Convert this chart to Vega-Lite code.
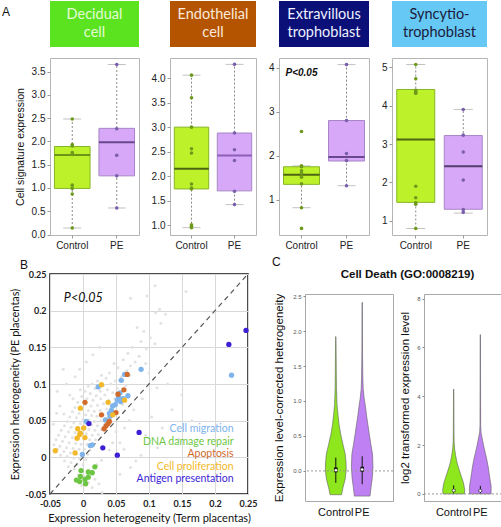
{
"$schema":"https://vega.github.io/schema/vega-lite/v6.json",
"padding":{"left":1,"top":1,"right":0,"bottom":0},
"background":"white",
"config":{"font":"Liberation Sans","view":{"stroke":null},"axis":{"grid":false,"labelOverlap":false,"labelFlush":false,"labelFont":"Liberation Sans","titleFont":"Liberation Sans"},"title":{"font":"Liberation Sans","fontWeight":"normal","fontSize":12,"color":"#111"}},
"datasets":{
"boxes":[
{"panel":"Decidual","group":"Control","lo":0.14,"q1":0.99,"med":1.71,"q3":1.89,"hi":2.48},
{"panel":"Decidual","group":"PE","lo":0.57,"q1":1.26,"med":1.98,"q3":2.28,"hi":3.65},
{"panel":"Endothelial","group":"Control","lo":0.95,"q1":1.74,"med":2.15,"q3":3.0,"hi":4.06},
{"panel":"Endothelial","group":"PE","lo":1.42,"q1":1.70,"med":2.42,"q3":2.88,"hi":4.28},
{"panel":"Extravillous","group":"Control","lo":0.82,"q1":1.35,"med":1.57,"q3":1.75,"hi":1.77},
{"panel":"Extravillous","group":"PE","lo":1.32,"q1":1.88,"med":1.97,"q3":2.80,"hi":4.07},
{"panel":"Syncytio","group":"Control","lo":0.80,"q1":1.48,"med":3.12,"q3":4.42,"hi":5.07},
{"panel":"Syncytio","group":"PE","lo":1.20,"q1":1.30,"med":2.42,"q3":3.22,"hi":3.90}],
"pts":[
{"panel":"Decidual","group":"Control","value":2.48},{"panel":"Decidual","group":"Control","value":1.93},{"panel":"Decidual","group":"Control","value":1.90},{"panel":"Decidual","group":"Control","value":1.76},{"panel":"Decidual","group":"Control","value":1.72},{"panel":"Decidual","group":"Control","value":1.06},{"panel":"Decidual","group":"Control","value":0.99},{"panel":"Decidual","group":"Control","value":0.87},{"panel":"Decidual","group":"Control","value":0.14},
{"panel":"Decidual","group":"PE","value":3.65},{"panel":"Decidual","group":"PE","value":2.27},{"panel":"Decidual","group":"PE","value":1.70},{"panel":"Decidual","group":"PE","value":1.26},{"panel":"Decidual","group":"PE","value":0.57},
{"panel":"Endothelial","group":"Control","value":4.06},{"panel":"Endothelial","group":"Control","value":3.60},{"panel":"Endothelial","group":"Control","value":3.00},{"panel":"Endothelial","group":"Control","value":2.56},{"panel":"Endothelial","group":"Control","value":2.47},{"panel":"Endothelial","group":"Control","value":1.84},{"panel":"Endothelial","group":"Control","value":1.76},{"panel":"Endothelial","group":"Control","value":1.74},{"panel":"Endothelial","group":"Control","value":1.01},{"panel":"Endothelial","group":"Control","value":0.98},{"panel":"Endothelial","group":"Control","value":0.95},
{"panel":"Endothelial","group":"PE","value":4.28},{"panel":"Endothelial","group":"PE","value":2.88},{"panel":"Endothelial","group":"PE","value":2.54},{"panel":"Endothelial","group":"PE","value":2.32},{"panel":"Endothelial","group":"PE","value":1.69},{"panel":"Endothelial","group":"PE","value":1.42},
{"panel":"Extravillous","group":"Control","value":2.55},{"panel":"Extravillous","group":"Control","value":1.77},{"panel":"Extravillous","group":"Control","value":1.75},{"panel":"Extravillous","group":"Control","value":1.66},{"panel":"Extravillous","group":"Control","value":1.60},{"panel":"Extravillous","group":"Control","value":1.51},{"panel":"Extravillous","group":"Control","value":1.36},{"panel":"Extravillous","group":"Control","value":0.82},{"panel":"Extravillous","group":"Control","value":0.35},
{"panel":"Extravillous","group":"PE","value":4.07},{"panel":"Extravillous","group":"PE","value":2.80},{"panel":"Extravillous","group":"PE","value":2.05},{"panel":"Extravillous","group":"PE","value":1.89},{"panel":"Extravillous","group":"PE","value":1.32},
{"panel":"Syncytio","group":"Control","value":5.07},{"panel":"Syncytio","group":"Control","value":4.70},{"panel":"Syncytio","group":"Control","value":4.40},{"panel":"Syncytio","group":"Control","value":4.35},{"panel":"Syncytio","group":"Control","value":4.32},{"panel":"Syncytio","group":"Control","value":1.90},{"panel":"Syncytio","group":"Control","value":1.60},{"panel":"Syncytio","group":"Control","value":1.47},{"panel":"Syncytio","group":"Control","value":1.43},{"panel":"Syncytio","group":"Control","value":0.80},
{"panel":"Syncytio","group":"PE","value":3.90},{"panel":"Syncytio","group":"PE","value":3.23},{"panel":"Syncytio","group":"PE","value":2.79},{"panel":"Syncytio","group":"PE","value":2.06},{"panel":"Syncytio","group":"PE","value":1.29},{"panel":"Syncytio","group":"PE","value":1.22}],
"genes":[
{"x":0.109,"y":0.234},{"x":0.097,"y":0.220},{"x":0.156,"y":0.226},{"x":0.072,"y":0.217},{"x":0.116,"y":0.202},{"x":0.110,"y":0.197},{"x":0.125,"y":0.195},{"x":0.092,"y":0.172},{"x":0.082,"y":0.177},{"x":0.102,"y":0.163},{"x":0.118,"y":0.183},{"x":0.088,"y":0.158},{"x":0.075,"y":0.150},{"x":0.096,"y":0.148},{"x":0.109,"y":0.155},{"x":0.068,"y":0.142},{"x":0.085,"y":0.138},{"x":0.079,"y":0.130},{"x":0.095,"y":0.128},{"x":0.061,"y":0.133},{"x":0.072,"y":0.125},{"x":0.053,"y":0.122},{"x":0.066,"y":0.118},{"x":0.047,"y":0.128},{"x":0.040,"y":0.115},{"x":0.058,"y":0.110},{"x":0.035,"y":0.108},{"x":0.049,"y":0.104},{"x":0.028,"y":0.112},{"x":0.042,"y":0.100},{"x":0.031,"y":0.098},{"x":0.022,"y":0.104},{"x":0.014,"y":0.100},{"x":0.037,"y":0.092},{"x":0.026,"y":0.090},{"x":0.018,"y":0.094},{"x":0.008,"y":0.097},{"x":0.045,"y":0.088},{"x":0.052,"y":0.094},{"x":0.033,"y":0.085},{"x":0.020,"y":0.084},{"x":0.011,"y":0.087},{"x":0.003,"y":0.090},{"x":-0.004,"y":0.092},{"x":0.027,"y":0.080},{"x":0.039,"y":0.078},{"x":0.015,"y":0.078},{"x":0.006,"y":0.080},{"x":-0.002,"y":0.083},{"x":0.048,"y":0.080},{"x":0.031,"y":0.073},{"x":0.022,"y":0.071},{"x":0.012,"y":0.070},{"x":0.003,"y":0.072},{"x":-0.008,"y":0.075},{"x":0.042,"y":0.070},{"x":0.036,"y":0.066},{"x":0.026,"y":0.064},{"x":0.017,"y":0.063},{"x":0.008,"y":0.064},{"x":-0.001,"y":0.066},{"x":-0.012,"y":0.068},{"x":0.046,"y":0.062},{"x":0.031,"y":0.058},{"x":0.021,"y":0.056},{"x":0.013,"y":0.057},{"x":0.004,"y":0.058},{"x":-0.006,"y":0.060},{"x":-0.016,"y":0.062},{"x":0.038,"y":0.054},{"x":0.027,"y":0.050},{"x":0.017,"y":0.049},{"x":0.009,"y":0.051},{"x":0.000,"y":0.052},{"x":-0.010,"y":0.054},{"x":-0.020,"y":0.055},{"x":0.033,"y":0.045},{"x":0.022,"y":0.043},{"x":0.013,"y":0.044},{"x":0.005,"y":0.045},{"x":-0.004,"y":0.046},{"x":-0.014,"y":0.047},{"x":-0.024,"y":0.049},{"x":0.028,"y":0.038},{"x":0.018,"y":0.037},{"x":0.009,"y":0.038},{"x":0.001,"y":0.039},{"x":-0.008,"y":0.040},{"x":-0.018,"y":0.041},{"x":-0.028,"y":0.043},{"x":0.023,"y":0.031},{"x":0.014,"y":0.030},{"x":0.005,"y":0.032},{"x":-0.003,"y":0.033},{"x":-0.012,"y":0.034},{"x":-0.022,"y":0.035},{"x":-0.033,"y":0.037},{"x":0.019,"y":0.024},{"x":0.010,"y":0.024},{"x":0.001,"y":0.025},{"x":-0.007,"y":0.026},{"x":-0.016,"y":0.027},{"x":-0.027,"y":0.028},{"x":-0.037,"y":0.030},{"x":0.015,"y":0.017},{"x":0.006,"y":0.018},{"x":-0.003,"y":0.018},{"x":-0.011,"y":0.019},{"x":-0.021,"y":0.020},{"x":-0.031,"y":0.022},{"x":-0.041,"y":0.024},{"x":0.011,"y":0.010},{"x":0.002,"y":0.011},{"x":-0.006,"y":0.011},{"x":-0.015,"y":0.012},{"x":-0.025,"y":0.013},{"x":-0.035,"y":0.015},{"x":-0.044,"y":0.017},{"x":0.007,"y":0.004},{"x":-0.002,"y":0.004},{"x":-0.010,"y":0.005},{"x":-0.019,"y":0.006},{"x":-0.029,"y":0.008},{"x":-0.039,"y":0.011},{"x":0.004,"y":-0.003},{"x":-0.005,"y":-0.002},{"x":-0.014,"y":-0.001},{"x":-0.024,"y":0.001},{"x":-0.034,"y":0.003},{"x":0.000,"y":-0.010},{"x":-0.009,"y":-0.009},{"x":-0.018,"y":-0.007},{"x":-0.028,"y":-0.005},{"x":-0.004,"y":-0.018},{"x":-0.013,"y":-0.016},{"x":-0.022,"y":-0.013},{"x":0.012,"y":-0.022},{"x":0.002,"y":-0.026},{"x":-0.007,"y":-0.024},{"x":0.018,"y":-0.030},{"x":0.008,"y":-0.034},{"x":-0.002,"y":-0.038},{"x":0.014,"y":-0.041},{"x":0.024,"y":-0.036},{"x":0.029,"y":-0.048},{"x":0.021,"y":-0.010},{"x":0.028,"y":-0.004},{"x":0.056,"y":0.020},{"x":0.062,"y":0.011},{"x":0.072,"y":-0.014},{"x":0.056,"y":-0.023},{"x":0.080,"y":-0.005},{"x":0.113,"y":0.013},{"x":0.095,"y":0.030},{"x":0.104,"y":0.055},{"x":0.120,"y":0.040},{"x":0.135,"y":0.065},{"x":0.150,"y":0.085},{"x":0.128,"y":0.100},{"x":0.090,"y":0.080},{"x":0.070,"y":0.050},{"x":0.077,"y":0.065},{"x":0.063,"y":0.040},{"x":0.050,"y":0.035},{"x":0.045,"y":0.020},{"x":0.040,"y":0.010},{"x":0.088,"y":0.003},{"x":0.145,"y":0.025},{"x":0.165,"y":0.050},{"x":0.100,"y":0.115},{"x":0.112,"y":0.095},{"x":0.060,"y":0.072},{"x":0.065,"y":0.098},{"x":0.055,"y":0.105},{"x":0.071,"y":0.112},{"x":-0.039,"y":0.090},{"x":-0.029,"y":0.059},{"x":-0.041,"y":0.011},{"x":-0.045,"y":0.045},{"x":-0.035,"y":0.070},{"x":-0.020,"y":0.085},{"x":-0.025,"y":0.100},{"x":-0.012,"y":0.110},{"x":-0.005,"y":0.120},{"x":0.005,"y":0.130},{"x":0.015,"y":0.140},{"x":0.025,"y":0.150},{"x":-0.030,"y":0.120},{"x":-0.015,"y":0.080},{"x":-0.040,"y":0.060}],
"terms":[
{"term":"Cell migration","x":0.225,"y":0.112},{"term":"Cell migration","x":0.088,"y":0.120},{"term":"Cell migration","x":0.063,"y":0.113},{"term":"Cell migration","x":0.058,"y":0.105},{"term":"Cell migration","x":0.023,"y":0.096},{"term":"Cell migration","x":0.068,"y":0.084},{"term":"Cell migration","x":0.056,"y":0.088},{"term":"Cell migration","x":0.054,"y":0.082},{"term":"Cell migration","x":0.052,"y":0.078},{"term":"Cell migration","x":0.049,"y":0.072},{"term":"Cell migration","x":0.057,"y":0.076},{"term":"Cell migration","x":0.045,"y":0.070},{"term":"Cell migration","x":0.043,"y":0.064},{"term":"Cell migration","x":0.040,"y":0.060},{"term":"Cell migration","x":0.041,"y":0.056},{"term":"Cell migration","x":0.034,"y":0.051},{"term":"Cell migration","x":0.005,"y":0.049},{"term":"Cell migration","x":0.014,"y":0.017},{"term":"Cell migration","x":0.011,"y":0.016},{"term":"Cell migration","x":-0.001,"y":0.004},{"term":"Cell migration","x":0.061,"y":0.080},
{"term":"DNA damage repair","x":-0.003,"y":-0.018},{"term":"DNA damage repair","x":0.018,"y":-0.013},{"term":"DNA damage repair","x":0.008,"y":-0.020},{"term":"DNA damage repair","x":-0.004,"y":-0.026},{"term":"DNA damage repair","x":-0.010,"y":-0.031},{"term":"DNA damage repair","x":-0.005,"y":-0.033},{"term":"DNA damage repair","x":0.003,"y":-0.030},{"term":"DNA damage repair","x":0.008,"y":-0.027},{"term":"DNA damage repair","x":0.004,"y":-0.036},{"term":"DNA damage repair","x":0.014,"y":-0.021},
{"term":"Apoptosis","x":0.067,"y":0.113},{"term":"Apoptosis","x":0.062,"y":0.092},{"term":"Apoptosis","x":0.053,"y":0.086},{"term":"Apoptosis","x":0.003,"y":0.075},{"term":"Apoptosis","x":0.028,"y":0.058},{"term":"Apoptosis","x":0.050,"y":0.061},{"term":"Apoptosis","x":0.035,"y":0.043},{"term":"Apoptosis","x":0.038,"y":0.046},{"term":"Apoptosis","x":0.032,"y":0.039},{"term":"Apoptosis","x":0.040,"y":0.049},
{"term":"Cell proliferation","x":0.028,"y":0.099},{"term":"Cell proliferation","x":-0.004,"y":0.067},{"term":"Cell proliferation","x":0.038,"y":0.075},{"term":"Cell proliferation","x":0.063,"y":0.078},{"term":"Cell proliferation","x":0.045,"y":0.058},{"term":"Cell proliferation","x":-0.008,"y":0.039},{"term":"Cell proliferation","x":-0.005,"y":0.031},{"term":"Cell proliferation","x":0.001,"y":0.040},{"term":"Cell proliferation","x":0.003,"y":0.027},{"term":"Cell proliferation","x":-0.009,"y":0.026},{"term":"Cell proliferation","x":-0.012,"y":0.006},{"term":"Cell proliferation","x":-0.042,"y":0.009},{"term":"Cell proliferation","x":-0.004,"y":0.033},
{"term":"Antigen presentation","x":0.247,"y":0.173},{"term":"Antigen presentation","x":0.221,"y":0.154},{"term":"Antigen presentation","x":0.085,"y":0.034},{"term":"Antigen presentation","x":0.052,"y":0.003},{"term":"Antigen presentation","x":0.030,"y":0.013},{"term":"Antigen presentation","x":0.009,"y":0.046}],
"violin":[
{"panel":"het","group":"Control","y":-0.34,"w":0.52},{"panel":"het","group":"Control","y":-0.24,"w":0.65},{"panel":"het","group":"Control","y":-0.12,"w":0.85},{"panel":"het","group":"Control","y":0.02,"w":0.95},{"panel":"het","group":"Control","y":0.12,"w":0.93},{"panel":"het","group":"Control","y":0.24,"w":0.86},{"panel":"het","group":"Control","y":0.38,"w":0.65},{"panel":"het","group":"Control","y":0.52,"w":0.45},{"panel":"het","group":"Control","y":0.66,"w":0.30},{"panel":"het","group":"Control","y":0.80,"w":0.20},{"panel":"het","group":"Control","y":0.95,"w":0.11},{"panel":"het","group":"Control","y":1.18,"w":0.06},{"panel":"het","group":"Control","y":1.42,"w":0.045},{"panel":"het","group":"Control","y":1.70,"w":0.03},{"panel":"het","group":"Control","y":1.92,"w":0.015},
{"panel":"het","group":"PE","y":-0.36,"w":0.71},{"panel":"het","group":"PE","y":-0.24,"w":0.80},{"panel":"het","group":"PE","y":-0.10,"w":0.92},{"panel":"het","group":"PE","y":0.05,"w":0.98},{"panel":"het","group":"PE","y":0.24,"w":0.94},{"panel":"het","group":"PE","y":0.38,"w":0.79},{"panel":"het","group":"PE","y":0.52,"w":0.65},{"panel":"het","group":"PE","y":0.66,"w":0.52},{"panel":"het","group":"PE","y":0.80,"w":0.39},{"panel":"het","group":"PE","y":0.95,"w":0.27},{"panel":"het","group":"PE","y":1.04,"w":0.18},{"panel":"het","group":"PE","y":1.18,"w":0.09},{"panel":"het","group":"PE","y":1.33,"w":0.06},{"panel":"het","group":"PE","y":1.66,"w":0.03},{"panel":"het","group":"PE","y":2.00,"w":0.02},{"panel":"het","group":"PE","y":2.41,"w":0.015},
{"panel":"expr","group":"Control","y":0.0,"w":0.97},{"panel":"expr","group":"Control","y":0.19,"w":1.0},{"panel":"expr","group":"Control","y":0.47,"w":0.88},{"panel":"expr","group":"Control","y":0.74,"w":0.68},{"panel":"expr","group":"Control","y":1.02,"w":0.48},{"panel":"expr","group":"Control","y":1.29,"w":0.30},{"panel":"expr","group":"Control","y":1.57,"w":0.18},{"panel":"expr","group":"Control","y":1.84,"w":0.09},{"panel":"expr","group":"Control","y":2.12,"w":0.045},{"panel":"expr","group":"Control","y":2.50,"w":0.03},{"panel":"expr","group":"Control","y":3.40,"w":0.02},{"panel":"expr","group":"Control","y":4.29,"w":0.015},
{"panel":"expr","group":"PE","y":0.0,"w":0.98},{"panel":"expr","group":"PE","y":0.33,"w":0.98},{"panel":"expr","group":"PE","y":0.60,"w":0.88},{"panel":"expr","group":"PE","y":0.88,"w":0.79},{"panel":"expr","group":"PE","y":1.15,"w":0.70},{"panel":"expr","group":"PE","y":1.43,"w":0.58},{"panel":"expr","group":"PE","y":1.70,"w":0.44},{"panel":"expr","group":"PE","y":1.98,"w":0.30},{"panel":"expr","group":"PE","y":2.25,"w":0.18},{"panel":"expr","group":"PE","y":2.53,"w":0.06},{"panel":"expr","group":"PE","y":2.80,"w":0.03},{"panel":"expr","group":"PE","y":4.50,"w":0.02},{"panel":"expr","group":"PE","y":6.52,"w":0.015}],
"vstats":[
{"panel":"het","group":"Control","lo":-0.17,"q1":-0.02,"med":0.01,"q3":0.05,"hi":0.19},
{"panel":"het","group":"PE","lo":-0.19,"q1":-0.01,"med":0.02,"q3":0.06,"hi":0.21},
{"panel":"expr","group":"Control","lo":0.03,"q1":0.09,"med":0.14,"q3":0.19,"hi":0.35},
{"panel":"expr","group":"PE","lo":0.03,"q1":0.08,"med":0.13,"q3":0.18,"hi":0.33}]
},
"resolve":{"scale":{"color":"independent"},"legend":{"color":"independent"}},
"vconcat":[
{"hconcat":[
 {"vconcat":[
  {"width":89,"height":46,"view":{"fill":"#5be31f","stroke":null},
   "title":{"text":"A","orient":"left","anchor":"end","angle":0,"align":"left","baseline":"top","offset":40,"frame":"group","fontSize":12,"dy":6},
   "data":{"values":[{"label":"Decidual\ncell"}]},
   "mark":{"type":"text","lineBreak":"\n","font":"Lato","fontSize":14.5,"lineHeight":18,"color":"#e4fbd4","baseline":"middle","align":"center","dy":-9},
   "encoding":{"text":{"field":"label"}}},
  {"width":89,"height":177,"view":{"stroke":"#b5b5b5"},
   "encoding":{"x":{"field":"group","type":"nominal","scale":{"domain":["Control","PE"],"paddingInner":0,"paddingOuter":0},"axis":{"title":null,"labelAngle":0,"labelFontSize":10,"labelColor":"#222","tickColor":"#999","tickSize":3,"domain":false,"labelPadding":2}}},
   "layer":[
    {"data":{"name":"boxes"},"transform":[{"filter":"datum.panel === 'Decidual'"}],"mark":{"type":"rule","strokeDash":[2,2],"color":"#8a8a8a"},
     "encoding":{"y":{"field":"lo","type":"quantitative","scale":{"domain":[-0.01,3.79],"nice":false,"zero":false},"axis":{"title":"Cell signature expression","values":[0,0.5,1,1.5,2,2.5,3,3.5],"tickCount":20,"format":".1f","domain":false,"tickColor":"#999","tickSize":3,"labelFontSize":10,"labelColor":"#222","titleFontSize":10.5,"titleFontWeight":"normal","titleColor":"#111","titlePadding":6}},"y2":{"field":"hi"}}},
    {"data":{"name":"boxes"},"transform":[{"filter":"datum.panel === 'Decidual'"}],"mark":{"type":"tick","size":18,"thickness":1,"color":"#a8a8a8"},"encoding":{"y":{"field":"lo","type":"quantitative"}}},
    {"data":{"name":"boxes"},"transform":[{"filter":"datum.panel === 'Decidual'"}],"mark":{"type":"tick","size":18,"thickness":1,"color":"#a8a8a8"},"encoding":{"y":{"field":"hi","type":"quantitative"}}},
    {"data":{"name":"boxes"},"transform":[{"filter":"datum.panel === 'Decidual'"}],"mark":{"type":"bar","width":{"band":0.8},"strokeWidth":1},
     "encoding":{"y":{"field":"q1","type":"quantitative"},"y2":{"field":"q3"},"color":{"condition":{"test":"datum.group === 'Control'","value":"#bdf22a"},"value":"#d7a8f7"},"stroke":{"condition":{"test":"datum.group === 'Control'","value":"#86b526"},"value":"#a786c6"}}},
    {"data":{"name":"boxes"},"transform":[{"filter":"datum.panel === 'Decidual'"}],"mark":{"type":"tick","size":35.6,"thickness":2},
     "encoding":{"y":{"field":"med","type":"quantitative"},"color":{"condition":{"test":"datum.group === 'Control'","value":"#4d6e10"},"value":"#3a2060"}}},
    {"data":{"name":"pts"},"transform":[{"filter":"datum.panel === 'Decidual'"}],"mark":{"type":"circle","size":13,"opacity":1},
     "encoding":{"y":{"field":"value","type":"quantitative"},"color":{"condition":{"test":"datum.group === 'Control'","value":"#6e9a1c"},"value":"#7b5fae"}}}
   ]}
 ],"spacing":11,"bounds":"flush"},
 {"vconcat":[
  {"width":86,"height":46,"view":{"fill":"#b55400","stroke":null},
   "data":{"values":[{"label":"Endothelial\ncell"}]},
   "mark":{"type":"text","lineBreak":"\n","font":"Lato","fontSize":14.5,"lineHeight":18,"color":"#fbe9dc","baseline":"middle","align":"center","dy":-9},
   "encoding":{"text":{"field":"label"}}},
  {"width":86,"height":177,"view":{"stroke":"#b5b5b5"},
   "encoding":{"x":{"field":"group","type":"nominal","scale":{"domain":["Control","PE"],"paddingInner":0,"paddingOuter":0},"axis":{"title":null,"labelAngle":0,"labelFontSize":10,"labelColor":"#222","tickColor":"#999","tickSize":3,"domain":false,"labelPadding":2}}},
   "layer":[
    {"data":{"name":"boxes"},"transform":[{"filter":"datum.panel === 'Endothelial'"}],"mark":{"type":"rule","strokeDash":[2,2],"color":"#8a8a8a"},
     "encoding":{"y":{"field":"lo","type":"quantitative","scale":{"domain":[0.80,4.41],"nice":false,"zero":false},"axis":{"title":null,"values":[1,1.5,2,2.5,3,3.5,4],"tickCount":20,"format":".1f","domain":false,"tickColor":"#999","tickSize":3,"labelFontSize":10,"labelColor":"#222"}},"y2":{"field":"hi"}}},
    {"data":{"name":"boxes"},"transform":[{"filter":"datum.panel === 'Endothelial'"}],"mark":{"type":"tick","size":18,"thickness":1,"color":"#a8a8a8"},"encoding":{"y":{"field":"lo","type":"quantitative"}}},
    {"data":{"name":"boxes"},"transform":[{"filter":"datum.panel === 'Endothelial'"}],"mark":{"type":"tick","size":18,"thickness":1,"color":"#a8a8a8"},"encoding":{"y":{"field":"hi","type":"quantitative"}}},
    {"data":{"name":"boxes"},"transform":[{"filter":"datum.panel === 'Endothelial'"}],"mark":{"type":"bar","width":{"band":0.8},"strokeWidth":1},
     "encoding":{"y":{"field":"q1","type":"quantitative"},"y2":{"field":"q3"},"color":{"condition":{"test":"datum.group === 'Control'","value":"#bdf22a"},"value":"#d7a8f7"},"stroke":{"condition":{"test":"datum.group === 'Control'","value":"#86b526"},"value":"#a786c6"}}},
    {"data":{"name":"boxes"},"transform":[{"filter":"datum.panel === 'Endothelial'"}],"mark":{"type":"tick","size":34.4,"thickness":2},
     "encoding":{"y":{"field":"med","type":"quantitative"},"color":{"condition":{"test":"datum.group === 'Control'","value":"#1f2a08"},"value":"#6a3fa0"}}},
    {"data":{"name":"pts"},"transform":[{"filter":"datum.panel === 'Endothelial'"}],"mark":{"type":"circle","size":13,"opacity":1},
     "encoding":{"y":{"field":"value","type":"quantitative"},"color":{"condition":{"test":"datum.group === 'Control'","value":"#6e9a1c"},"value":"#7b5fae"}}}
   ]}
 ],"spacing":11,"bounds":"flush"},
 {"vconcat":[
  {"width":90,"height":46,"view":{"fill":"#0b1078","stroke":null},
   "data":{"values":[{"label":"Extravillous\ntrophoblast"}]},
   "mark":{"type":"text","lineBreak":"\n","font":"Lato","fontSize":14.5,"lineHeight":18,"color":"#eef0ff","baseline":"middle","align":"center","dy":-9},
   "encoding":{"text":{"field":"label"}}},
  {"width":90,"height":177,"view":{"stroke":"#b5b5b5"},
   "encoding":{"x":{"field":"group","type":"nominal","scale":{"domain":["Control","PE"],"paddingInner":0,"paddingOuter":0},"axis":{"title":null,"labelAngle":0,"labelFontSize":10,"labelColor":"#222","tickColor":"#999","tickSize":3,"domain":false,"labelPadding":2}}},
   "layer":[
    {"data":{"name":"boxes"},"transform":[{"filter":"datum.panel === 'Extravillous'"}],"mark":{"type":"rule","strokeDash":[2,2],"color":"#8a8a8a"},
     "encoding":{"y":{"field":"lo","type":"quantitative","scale":{"domain":[0.2,4.22],"nice":false,"zero":false},"axis":{"title":null,"values":[1,2,3,4],"tickCount":20,"format":"d","domain":false,"tickColor":"#999","tickSize":3,"labelFontSize":10,"labelColor":"#222"}},"y2":{"field":"hi"}}},
    {"data":{"name":"boxes"},"transform":[{"filter":"datum.panel === 'Extravillous'"}],"mark":{"type":"tick","size":18,"thickness":1,"color":"#a8a8a8"},"encoding":{"y":{"field":"lo","type":"quantitative"}}},
    {"data":{"name":"boxes"},"transform":[{"filter":"datum.panel === 'Extravillous'"}],"mark":{"type":"tick","size":18,"thickness":1,"color":"#a8a8a8"},"encoding":{"y":{"field":"hi","type":"quantitative"}}},
    {"data":{"name":"boxes"},"transform":[{"filter":"datum.panel === 'Extravillous'"}],"mark":{"type":"bar","width":{"band":0.8},"strokeWidth":1},
     "encoding":{"y":{"field":"q1","type":"quantitative"},"y2":{"field":"q3"},"color":{"condition":{"test":"datum.group === 'Control'","value":"#bdf22a"},"value":"#d7a8f7"},"stroke":{"condition":{"test":"datum.group === 'Control'","value":"#86b526"},"value":"#a786c6"}}},
    {"data":{"name":"boxes"},"transform":[{"filter":"datum.panel === 'Extravillous'"}],"mark":{"type":"tick","size":36,"thickness":2},
     "encoding":{"y":{"field":"med","type":"quantitative"},"color":{"condition":{"test":"datum.group === 'Control'","value":"#1f2a08"},"value":"#3a2060"}}},
    {"data":{"name":"pts"},"transform":[{"filter":"datum.panel === 'Extravillous'"}],"mark":{"type":"circle","size":13,"opacity":1},
     "encoding":{"y":{"field":"value","type":"quantitative"},"color":{"condition":{"test":"datum.group === 'Control'","value":"#6e9a1c"},"value":"#7b5fae"}}},
    {"data":{"values":[{"group":"Control","y":3.87,"t":"P<0.05"}]},"mark":{"type":"text","fontWeight":"bold","fontStyle":"italic","fontSize":10,"color":"#111","baseline":"middle"},
     "encoding":{"y":{"field":"y","type":"quantitative"},"text":{"field":"t"}}}
   ]}
 ],"spacing":11,"bounds":"flush"},
 {"vconcat":[
  {"width":95,"height":46,"view":{"fill":"#66c9f5","stroke":null},
   "data":{"values":[{"label":"Syncytio-\ntrophoblast"}]},
   "mark":{"type":"text","lineBreak":"\n","font":"Lato","fontSize":14.5,"lineHeight":18,"color":"#1b1b3c","baseline":"middle","align":"center","dy":-9},
   "encoding":{"text":{"field":"label"}}},
  {"width":95,"height":177,"view":{"stroke":"#b5b5b5"},
   "encoding":{"x":{"field":"group","type":"nominal","scale":{"domain":["Control","PE"],"paddingInner":0,"paddingOuter":0},"axis":{"title":null,"labelAngle":0,"labelFontSize":10,"labelColor":"#222","tickColor":"#999","tickSize":3,"domain":false,"labelPadding":2}}},
   "layer":[
    {"data":{"name":"boxes"},"transform":[{"filter":"datum.panel === 'Syncytio'"}],"mark":{"type":"rule","strokeDash":[2,2],"color":"#8a8a8a"},
     "encoding":{"y":{"field":"lo","type":"quantitative","scale":{"domain":[0.63,5.24],"nice":false,"zero":false},"axis":{"title":null,"values":[1,2,3,4,5],"tickCount":20,"format":"d","domain":false,"tickColor":"#999","tickSize":3,"labelFontSize":10,"labelColor":"#222"}},"y2":{"field":"hi"}}},
    {"data":{"name":"boxes"},"transform":[{"filter":"datum.panel === 'Syncytio'"}],"mark":{"type":"tick","size":19,"thickness":1,"color":"#a8a8a8"},"encoding":{"y":{"field":"lo","type":"quantitative"}}},
    {"data":{"name":"boxes"},"transform":[{"filter":"datum.panel === 'Syncytio'"}],"mark":{"type":"tick","size":19,"thickness":1,"color":"#a8a8a8"},"encoding":{"y":{"field":"hi","type":"quantitative"}}},
    {"data":{"name":"boxes"},"transform":[{"filter":"datum.panel === 'Syncytio'"}],"mark":{"type":"bar","width":{"band":0.8},"strokeWidth":1},
     "encoding":{"y":{"field":"q1","type":"quantitative"},"y2":{"field":"q3"},"color":{"condition":{"test":"datum.group === 'Control'","value":"#bdf22a"},"value":"#d7a8f7"},"stroke":{"condition":{"test":"datum.group === 'Control'","value":"#86b526"},"value":"#a786c6"}}},
    {"data":{"name":"boxes"},"transform":[{"filter":"datum.panel === 'Syncytio'"}],"mark":{"type":"tick","size":38,"thickness":2},
     "encoding":{"y":{"field":"med","type":"quantitative"},"color":{"condition":{"test":"datum.group === 'Control'","value":"#1f2a08"},"value":"#1a1030"}}},
    {"data":{"name":"pts"},"transform":[{"filter":"datum.panel === 'Syncytio'"}],"mark":{"type":"circle","size":13,"opacity":1},
     "encoding":{"y":{"field":"value","type":"quantitative"},"color":{"condition":{"test":"datum.group === 'Control'","value":"#6e9a1c"},"value":"#7b5fae"}}}
   ]}
 ],"spacing":11,"bounds":"flush"}
],"spacing":10},
{"hconcat":[
 {"width":198,"height":220,"view":{"stroke":"#111","strokeWidth":1.5},
  "title":{"text":"B","orient":"top","anchor":"start","dx":-30,"offset":-2,"frame":"group","fontSize":12},
  "layer":[
   {"data":{"name":"genes"},"mark":{"type":"circle","size":9,"color":"#e2e2e2","opacity":1},
    "encoding":{
     "x":{"field":"x","type":"quantitative","scale":{"domain":[-0.05,0.25],"nice":false,"zero":false},"axis":{"title":"Expression heterogeneity (Term placentas)","values":[-0.05,0,0.05,0.1,0.15,0.2,0.25],"tickCount":20,"labelExpr":"replace(format(datum.value, '~g'), '\u2212', '-')","grid":true,"gridColor":"#d8d8d8","domain":false,"ticks":false,"labelFont":"Lato","labelFontWeight":"bold","labelFontSize":9,"labelColor":"#222","labelPadding":5,"titleFont":"Lato","titleFontSize":11,"titleFontWeight":"normal","titleColor":"#111","titlePadding":4}},
     "y":{"field":"y","type":"quantitative","scale":{"domain":[-0.05,0.25],"nice":false,"zero":false},"axis":{"title":"Expression heterogeneity (PE placentas)","values":[-0.05,0,0.05,0.1,0.15,0.2,0.25],"tickCount":20,"labelExpr":"replace(format(datum.value, '~g'), '\u2212', '-')","grid":true,"gridColor":"#d8d8d8","domain":false,"ticks":false,"labelFont":"Lato","labelFontWeight":"bold","labelFontSize":9,"labelColor":"#222","labelPadding":4,"titleFont":"Lato","titleFontSize":11,"titleFontWeight":"normal","titleColor":"#111","titlePadding":4}}}},
   {"data":{"values":[{"x":-0.05,"y":-0.05,"x2":0.25,"y2":0.25}]},"mark":{"type":"rule","strokeDash":[5,4],"color":"#555","strokeWidth":1.2},
    "encoding":{"x":{"field":"x","type":"quantitative"},"y":{"field":"y","type":"quantitative"},"x2":{"field":"x2"},"y2":{"field":"y2"}}},
   {"data":{"name":"terms"},"mark":{"type":"circle","size":28,"opacity":1},
    "encoding":{"x":{"field":"x","type":"quantitative"},"y":{"field":"y","type":"quantitative"},
     "color":{"field":"term","type":"nominal","scale":{"domain":["Cell migration","DNA damage repair","Apoptosis","Cell proliferation","Antigen presentation"],"range":["#7eb3ec","#6cc644","#d06b2b","#f2b92a","#3d1fd6"]},
      "legend":{"orient":"bottom-right","title":null,"offset":9,"labelFont":"Lato","labelFontSize":10.5,"symbolSize":0,"symbolStrokeWidth":0,"symbolOpacity":0,"labelAlign":"right","rowPadding":1.5,"labelOffset":-10,
       "encode":{"labels":{"update":{"fill":{"signal":"datum.label === 'Cell migration' ? '#7eb3ec' : datum.label === 'DNA damage repair' ? '#6cc644' : datum.label === 'Apoptosis' ? '#d06b2b' : datum.label === 'Cell proliferation' ? '#f2b92a' : '#3d1fd6'"}}}}}}}},
   {"data":{"values":[{"x":-0.029,"y":0.217,"t":"P<0.05"}]},"mark":{"type":"text","align":"left","baseline":"middle","fontStyle":"italic","fontSize":12.5,"font":"Lato","color":"#111"},
    "encoding":{"x":{"field":"x","type":"quantitative"},"y":{"field":"y","type":"quantitative"},"text":{"field":"t"}}}
  ]},
 {"vconcat":[
  {"width":205,"height":1,"view":{"stroke":null},
   "title":{"text":"C","orient":"top","anchor":"start","dx":-33,"offset":0,"frame":"group","fontSize":12},
   "data":{"values":[{"t":"Cell Death (GO:0008219)"}]},
   "mark":{"type":"text","fontWeight":"bold","fontSize":11.5,"color":"#111","baseline":"middle","align":"center"},
   "encoding":{"text":{"field":"t"}}},
  {"hconcat":[
   {"width":88,"height":207,"view":{"stroke":"#a8a8a8"},
    "layer":[
     {"data":{"name":"violin"},"transform":[{"filter":"datum.panel === 'het' && datum.group === 'Control'"}],
      "mark":{"type":"area","orient":"horizontal","fill":"#8ee61c","stroke":"#606060","strokeWidth":0.6},
      "encoding":{"y":{"field":"y","type":"quantitative","scale":{"domain":[-0.43,2.53],"nice":false,"zero":false},"axis":{"title":"Expression level-corrected heterogeneity","values":[0,0.5,1,1.5,2,2.5],"tickCount":20,"format":".1f","domain":false,"tickColor":"#888","tickSize":2,"labelFontSize":6,"labelColor":"#555","titleFontSize":11.5,"titleFontWeight":"normal","titleColor":"#111","titlePadding":8}},
       "x":{"field":"w","type":"quantitative","stack":"center","scale":{"domain":[-0.925,3.075],"nice":false,"zero":false},"axis":null}}},
     {"data":{"name":"violin"},"transform":[{"filter":"datum.panel === 'het' && datum.group === 'PE'"}],
      "mark":{"type":"area","orient":"horizontal","fill":"#bf80f4","stroke":"#606060","strokeWidth":0.6},
      "encoding":{"y":{"field":"y","type":"quantitative"},
       "x":{"field":"w","type":"quantitative","stack":"center","scale":{"domain":[-2.11,1.89],"nice":false,"zero":false},"axis":null}}},
     {"data":{"values":[{"z":0}]},"mark":{"type":"rule","strokeDash":[2,2],"color":"#999"},"encoding":{"y":{"field":"z","type":"quantitative"}}},
     {"data":{"name":"vstats"},"transform":[{"filter":"datum.panel === 'het'"}],
      "encoding":{"x":{"field":"group","type":"nominal","scale":{"domain":["Control","PE"],"paddingInner":0,"paddingOuter":0.667},"axis":{"title":null,"labelAngle":0,"labelFontSize":11,"labelColor":"#111","ticks":false,"domain":false,"labelPadding":5}}},
      "layer":[
       {"mark":{"type":"rule","color":"#111","strokeWidth":1},"encoding":{"y":{"field":"lo","type":"quantitative"},"y2":{"field":"hi"}}},
       {"mark":{"type":"bar","size":3.5,"color":"#111"},"encoding":{"y":{"field":"q1","type":"quantitative"},"y2":{"field":"q3"}}},
       {"mark":{"type":"circle","size":7,"color":"white","opacity":1},"encoding":{"y":{"field":"med","type":"quantitative"}}}
      ]}
    ],
    "resolve":{"scale":{"x":"independent"},"axis":{"x":"independent"}}},
   {"width":86,"height":207,"view":{"stroke":"#a8a8a8"},
    "layer":[
     {"data":{"name":"violin"},"transform":[{"filter":"datum.panel === 'expr' && datum.group === 'Control'"}],
      "mark":{"type":"area","orient":"horizontal","fill":"#8ee61c","stroke":"#606060","strokeWidth":0.6},
      "encoding":{"y":{"field":"y","type":"quantitative","scale":{"domain":[-0.29,8.19],"nice":false,"zero":false},"axis":{"title":"log2 transformed expression level","values":[0,2,4,6,8],"tickCount":20,"format":"d","domain":false,"tickColor":"#888","tickSize":2,"labelFontSize":6,"labelColor":"#555","titleFontSize":11.5,"titleFontWeight":"normal","titleColor":"#111","titlePadding":6}},
       "x":{"field":"w","type":"quantitative","stack":"center","scale":{"domain":[-0.849,3.061],"nice":false,"zero":false},"axis":null}}},
     {"data":{"name":"violin"},"transform":[{"filter":"datum.panel === 'expr' && datum.group === 'PE'"}],
      "mark":{"type":"area","orient":"horizontal","fill":"#bf80f4","stroke":"#606060","strokeWidth":0.6},
      "encoding":{"y":{"field":"y","type":"quantitative"},
       "x":{"field":"w","type":"quantitative","stack":"center","scale":{"domain":[-2.071,1.839],"nice":false,"zero":false},"axis":null}}},
     {"data":{"values":[{"z":0}]},"mark":{"type":"rule","strokeDash":[2,2],"color":"#999"},"encoding":{"y":{"field":"z","type":"quantitative"}}},
     {"data":{"name":"vstats"},"transform":[{"filter":"datum.panel === 'expr'"}],
      "encoding":{"x":{"field":"group","type":"nominal","scale":{"domain":["Control","PE"],"paddingInner":0,"paddingOuter":0.61},"axis":{"title":null,"labelAngle":0,"labelFontSize":11,"labelColor":"#111","ticks":false,"domain":false,"labelPadding":5}}},
      "layer":[
       {"mark":{"type":"rule","color":"#111","strokeWidth":1},"encoding":{"y":{"field":"lo","type":"quantitative"},"y2":{"field":"hi"}}},
       {"mark":{"type":"bar","size":3.5,"color":"#111"},"encoding":{"y":{"field":"q1","type":"quantitative"},"y2":{"field":"q3"}}},
       {"mark":{"type":"circle","size":6,"color":"white","opacity":1},"encoding":{"y":{"field":"med","type":"quantitative"}}}
      ]}
    ],
    "resolve":{"scale":{"x":"independent"},"axis":{"x":"independent"}}}
  ],"spacing":31,"bounds":"flush"}
 ],"spacing":12}
],"spacing":14,"resolve":{"scale":{"color":"independent"},"legend":{"color":"independent"}}}
],
"spacing":4
}
